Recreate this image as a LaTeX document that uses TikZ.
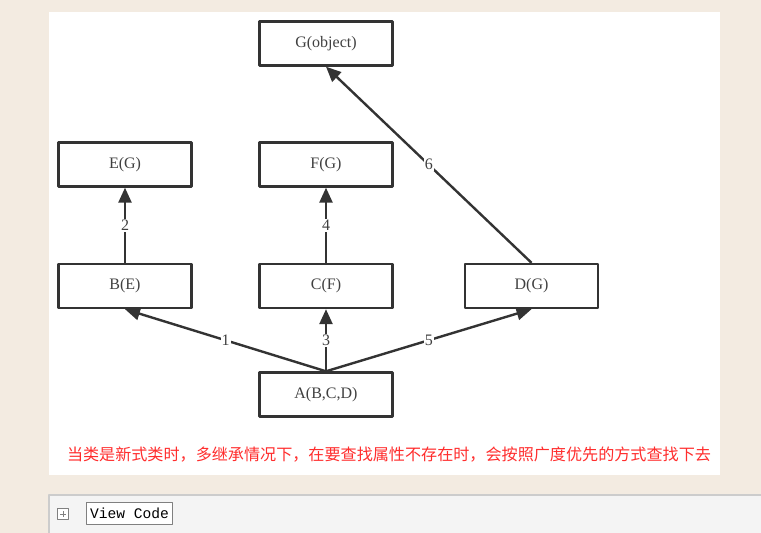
\documentclass[tikz,border=0pt]{standalone}
\usepackage{fontspec}
\setmainfont{Liberation Serif}
\newfontfamily\cjkfont{Noto Sans CJK SC}
\newfontfamily\monofont{Liberation Mono}
\usetikzlibrary{arrows.meta}
\definecolor{pagebg}{RGB}{243,235,225}
\definecolor{barbg}{RGB}{244,244,244}
\definecolor{barline}{RGB}{204,204,204}
\definecolor{linegray}{RGB}{51,51,51}
\definecolor{notered}{RGB}{255,45,45}
\tikzset{
	cls/.style={draw=linegray, line width=2.4pt, fill=white, minimum width=133pt, minimum height=44pt, inner sep=0pt, text=black!75, font=\fontsize{16}{18}\selectfont},
	edge/.style={draw=linegray, line width=2.4pt, -{Triangle[length=15pt, width=13pt]}},
	num/.style={fill=white, inner sep=1pt, text=black!75, font=\fontsize{16}{18}\selectfont}
}
\begin{document}
\begin{tikzpicture}[x=1pt, y=-1pt, line join=round]
	\useasboundingbox (0,0) rectangle (761,533);
	% ==================== NỀN ====================
	\fill[pagebg] (0,0) rectangle (761,533);
	\fill[white] (49,12) rectangle (720,475);
	\fill[barbg] (49,495) rectangle (761,533);
	\draw[barline, line width=1.5pt] (49,533) -- (49,495) -- (761,495);
	% ==================== CÁC LỚP ====================
	\path (326,43.5) node[cls] (G) {G(object)}
	(125,164.5) node[cls] (E) {E(G)}
	(326,164.5) node[cls] (F) {F(G)}
	(125,286) node[cls] (B) {B(E)}
	(326,286) node[cls] (C) {C(F)}
	(531.5,286) node[cls] (D) {D(G)}
	(326,394.5) node[cls] (A) {A(B,C,D)};
	% ==================== MŨI TÊN ====================
	\foreach \s/\t/\n in {A/B/1, A/C/3, A/D/5, B/E/2, C/F/4, D/G/6}
	\draw[edge] (\s.north) -- (\t.south) node[midway, num] (l\n) {\n};
	% ==================== GHI CHÚ ====================
	\node[text=notered, font=\cjkfont\fontsize{16.1}{20}\selectfont, inner sep=0pt] (note) at (389,455) {当类是新式类时，多继承情况下，在要查找属性不存在时，会按照广度优先的方式查找下去};
	% ==================== THANH DƯỚI ====================
	\draw[gray, line width=1pt, fill=white] (57.5,508.5) rectangle (68.5,519.5);
	\draw[gray, line width=1pt] (60,514) -- (66,514) (63,511) -- (63,517);
	\node[draw=gray, line width=1pt, fill=white, inner xsep=4pt, inner ysep=5.5pt, font=\monofont\fontsize{14.6}{16}\selectfont] (view) at (129.5,513.5) {View Code};
\end{tikzpicture}
\end{document}
